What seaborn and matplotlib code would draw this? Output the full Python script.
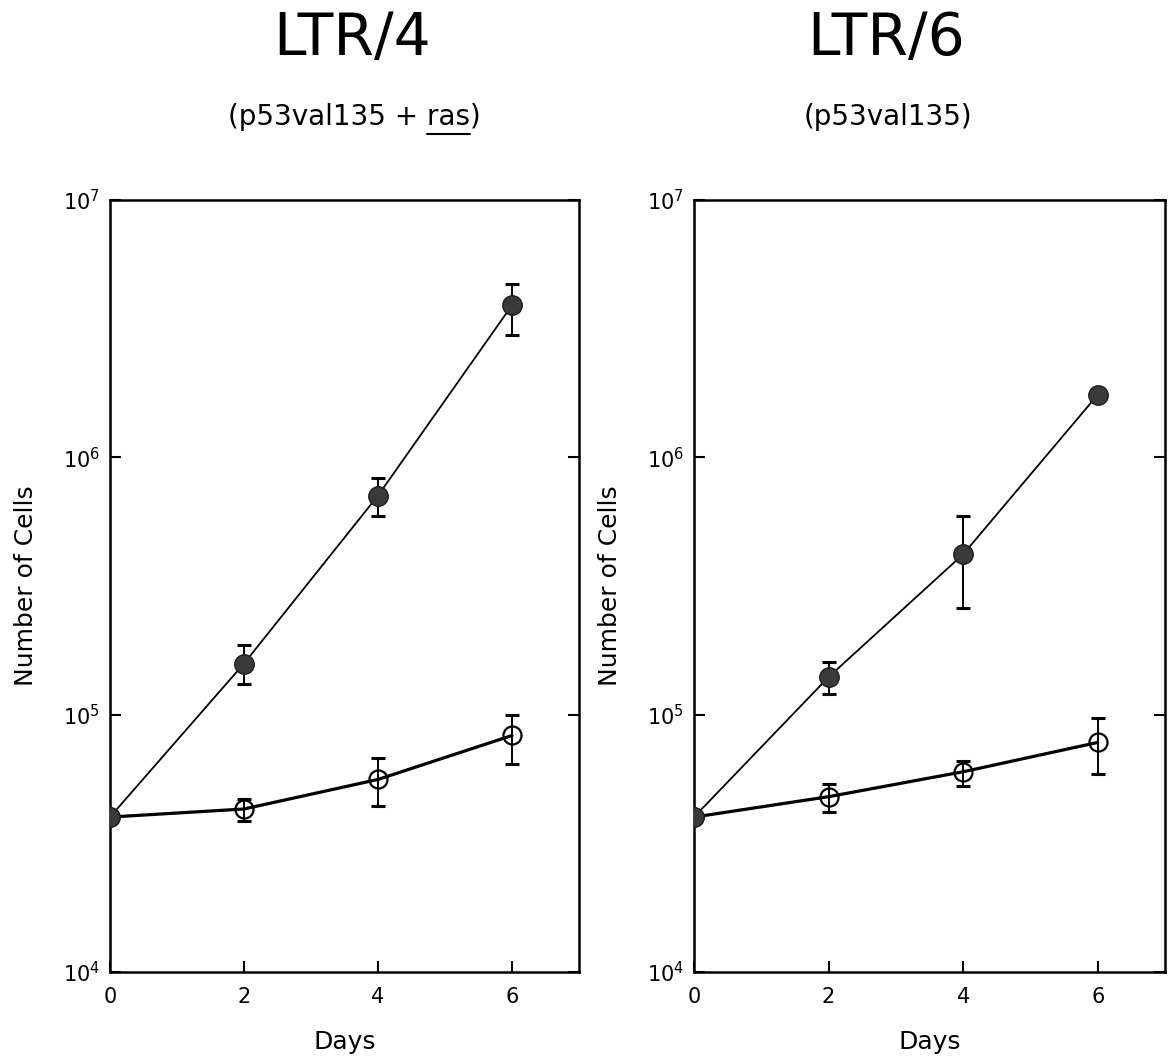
import numpy as np
import pandas as pd
import matplotlib
matplotlib.use("Agg")
import matplotlib.pyplot as plt
from matplotlib.lines import Line2D
from matplotlib.ticker import NullLocator
import seaborn as sns

# ---------------- data ----------------
days = [0, 2, 4, 6]

# LTR/4 (p53val135 + ras)
ltr4_filled = [4.0e4, 1.58e5, 7.1e5, 3.9e6]
ltr4_filled_lo = [np.nan, 1.31e5, 5.9e5, 3.0e6]
ltr4_filled_hi = [np.nan, 1.87e5, 8.3e5, 4.7e6]
ltr4_open = [4.0e4, 4.3e4, 5.6e4, 8.3e4]
ltr4_open_lo = [np.nan, 3.85e4, 4.4e4, 6.45e4]
ltr4_open_hi = [np.nan, 4.7e4, 6.8e4, 1.0e5]

# LTR/6 (p53val135)
ltr6_filled = [4.0e4, 1.4e5, 4.2e5, 1.75e6]
ltr6_filled_lo = [np.nan, 1.2e5, 2.6e5, np.nan]
ltr6_filled_hi = [np.nan, 1.6e5, 5.9e5, np.nan]
ltr6_open = [4.0e4, 4.8e4, 6.0e4, 7.8e4]
ltr6_open_lo = [np.nan, 4.2e4, 5.3e4, 5.9e4]
ltr6_open_hi = [np.nan, 5.4e4, 6.6e4, 9.7e4]

titles = ["LTR/4", "LTR/6"]
subtitles = ["(p53val135 + ras)", "(p53val135)"]
x_ticks = [0, 2, 4, 6]
y_ticks = [1e4, 1e5, 1e6, 1e7]
y_ticklabels = [r"$10^{4}$", r"$10^{5}$", r"$10^{6}$", r"$10^{7}$"]
x_label = "Days"
y_label = "Number of Cells"

# ---------------- style ----------------
sns.set_style("ticks")
plt.rcParams["font.family"] = ["DejaVu Sans"]
plt.rcParams["mathtext.fontset"] = "dejavusans"
plt.rcParams["text.color"] = "black"
plt.rcParams["axes.labelcolor"] = "black"
plt.rcParams["xtick.color"] = "black"
plt.rcParams["ytick.color"] = "black"

W, H = 1173, 1061
fig = plt.figure(figsize=(W / 100, H / 100), dpi=100)


def fx(px):
    return px / W


def fy(py):
    return 1 - py / H


ax1 = fig.add_axes([fx(110), fy(972), fx(579) - fx(110), fy(200) - fy(972)])
ax2 = fig.add_axes([fx(694), fy(972), fx(1165) - fx(694), fy(200) - fy(972)])

panels = [
    (ax1, ltr4_filled, ltr4_filled_lo, ltr4_filled_hi, ltr4_open, ltr4_open_lo, ltr4_open_hi),
    (ax2, ltr6_filled, ltr6_filled_lo, ltr6_filled_hi, ltr6_open, ltr6_open_lo, ltr6_open_hi),
]


def draw_err(ax, vals, lo, hi, z):
    v = np.array(vals)
    lo = np.array(lo)
    hi = np.array(hi)
    d = np.array(days, dtype=float)
    m = ~np.isnan(lo)
    ax.errorbar(d[m], v[m], yerr=[v[m] - lo[m], hi[m] - v[m]], fmt="none",
                ecolor="black", elinewidth=1.4, capsize=5, capthick=2.2, zorder=z)


for ax, fv, flo, fhi, ov, olo, ohi in panels:
    ax.set_yscale("log")
    df_f = pd.DataFrame({"day": days, "cells": fv})
    df_o = pd.DataFrame({"day": days, "cells": ov})

    # open-circle series (thicker line)
    draw_err(ax, ov, olo, ohi, 2)
    sns.lineplot(data=df_o, x="day", y="cells", ax=ax, estimator=None,
                 color="black", lw=2.3, marker="o", markersize=13,
                 markerfacecolor="none", markeredgecolor="black",
                 markeredgewidth=1.6, zorder=3)
    # filled-circle series
    draw_err(ax, fv, flo, fhi, 4)
    sns.lineplot(data=df_f, x="day", y="cells", ax=ax, estimator=None,
                 color="black", lw=1.3, marker="o", markersize=14,
                 markerfacecolor="#3a3a3a", markeredgecolor="#1e1e1e",
                 markeredgewidth=1.0, zorder=5)

    ax.set_xlim(0, 7)
    ax.set_ylim(1e4, 1e7)
    ax.set_xticks(x_ticks)
    ax.set_xticklabels([str(t) for t in x_ticks])
    ax.set_yticks(y_ticks)
    ax.set_yticklabels(y_ticklabels)
    ax.yaxis.set_minor_locator(NullLocator())
    ax.tick_params(axis="both", direction="in", length=8, width=1.5,
                   labelsize=15, colors="black")
    ax.tick_params(axis="y", right=True, left=True, pad=7)
    ax.tick_params(axis="x", top=False, bottom=True, pad=11)
    for s in ax.spines.values():
        s.set_visible(True)
        s.set_linewidth(1.8)
        s.set_color("black")
    ax.set_xlabel(x_label, fontsize=18, labelpad=16)
    ax.set_ylabel(y_label, fontsize=18, labelpad=18)
    ax.grid(False)

# titles
title_x = [352, 886]
for tx, t in zip(title_x, titles):
    fig.text(fx(tx), fy(55), t, fontsize=42, ha="center", va="baseline", color="black")

sub1 = fig.text(fx(354), fy(125), subtitles[0], fontsize=20, ha="center", va="baseline", color="black")
sub2 = fig.text(fx(888), fy(125), subtitles[1], fontsize=20, ha="center", va="baseline", color="black")

# underline "ras" in the first subtitle
fig.canvas.draw()
r = fig.canvas.get_renderer()
bb = sub1.get_window_extent(r)
tmp1 = fig.text(0, 0, "ras)", fontsize=20)
tmp2 = fig.text(0, 0, ")", fontsize=20)
w1 = tmp1.get_window_extent(r).width
w2 = tmp2.get_window_extent(r).width
tmp1.remove()
tmp2.remove()
x0 = bb.x1 - w1
x1 = bb.x1 - w2
inv = fig.transFigure.inverted()
ux0 = inv.transform((x0, 0))[0]
ux1 = inv.transform((x1, 0))[0]
fig.add_artist(Line2D([ux0, ux1], [fy(134), fy(134)], transform=fig.transFigure,
                      color="black", lw=1.5))

fig.savefig("out.png", dpi=100)
